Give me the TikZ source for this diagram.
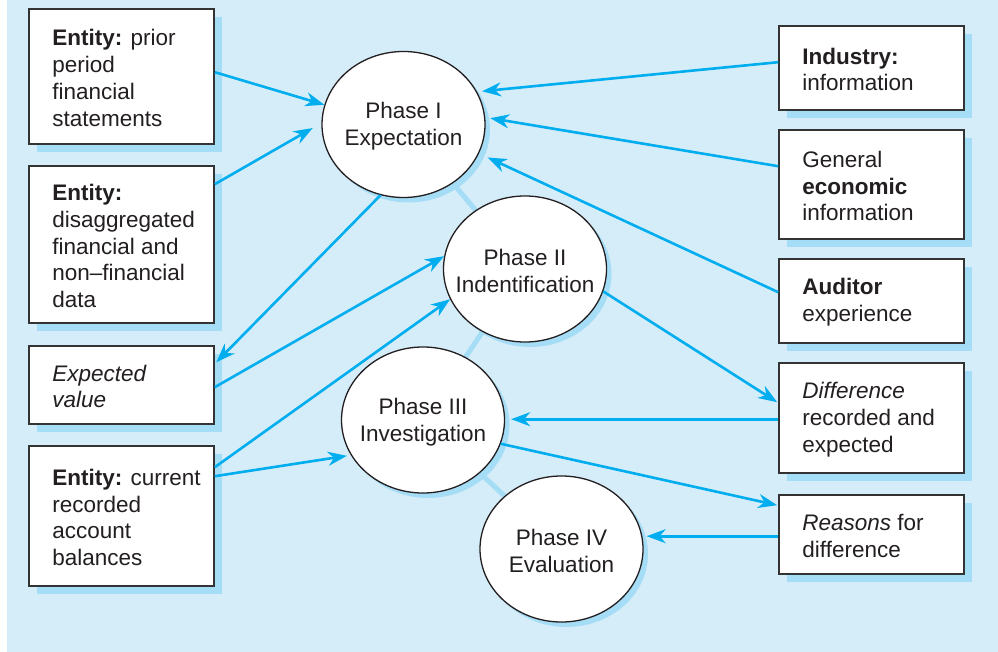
\documentclass[tikz,border=0pt]{standalone}
\usepackage{fontspec}
\setmainfont{Liberation Sans}
\usetikzlibrary{shapes.geometric,arrows.meta,calc,shadows}
\definecolor{bgc}{HTML}{D5ECF9}
\definecolor{shc}{HTML}{A6DDF6}
\definecolor{arrc}{HTML}{00AEEF}
\definecolor{linec}{HTML}{333333}
\definecolor{txtc}{HTML}{231F20}
\pgfdeclarelayer{bg}
\pgfsetlayers{bg,main}
\begin{document}
\begin{tikzpicture}[x=1pt,y=-1pt,
  font=\fontsize{22.5}{26.8}\selectfont,
  box/.style={rectangle, draw=linec, line width=1.6pt, fill=white, minimum width=185pt, inner sep=0pt,
    drop shadow={shadow xshift=8pt, shadow yshift=-8pt, fill=shc, opacity=1}},
  txt/.style={align=left, inner sep=0pt, text=txtc, anchor=west},
  ell/.style={ellipse, draw=txtc, line width=1.3pt, fill=white, minimum width=163pt, minimum height=146pt,
    inner sep=0pt,
    drop shadow={shadow xshift=5pt, shadow yshift=-5pt, fill=shc, opacity=1}},
  etxt/.style={align=center, inner sep=0pt, text=txtc},
  arr/.style={draw=arrc, line width=2.6pt, -{Stealth[length=19pt,width=14pt,inset=6pt]}},
  link/.style={draw=shc, line width=5pt}
]
\useasboundingbox (0,0) rectangle (998,652);

% left boxes
\node[box, minimum height=135pt] (b1) at (121.5,76.5) {};
\node[txt] (t1) at ($(b1.west)+(24,1.5)$) {\textbf{Entity:} prior\\period\\financial\\statements};
\node[box, minimum height=157pt] (b2) at (121.5,244.5) {};
\node[txt] (t2) at ($(b2.west)+(24,1.5)$) {\textbf{Entity:}\\disaggregated\\financial and\\non–financial\\data};
\node[box, minimum height=78pt] (b3) at (121.5,385) {};
\node[txt] (t3) at ($(b3.west)+(24,1.5)$) {\textit{Expected}\\\textit{value}};
\node[box, minimum height=140pt] (b4) at (121.5,516) {};
\node[txt] (t4) at ($(b4.west)+(24,1.5)$) {\textbf{Entity:} current\\recorded\\account\\balances};

% right boxes
\node[box, minimum height=84pt] (r1) at (871.5,68) {};
\node[txt] (u1) at ($(r1.west)+(24,1.5)$) {\textbf{Industry:}\\information};
\node[box, minimum height=109pt] (r2) at (871.5,184.5) {};
\node[txt] (u2) at ($(r2.west)+(24,1.5)$) {General\\\textbf{economic}\\information};
\node[box, minimum height=84pt] (r3) at (871.5,301) {};
\node[txt] (u3) at ($(r3.west)+(24,1.5)$) {\textbf{Auditor}\\experience};
\node[box, minimum height=110pt] (r4) at (871.5,418) {};
\node[txt] (u4) at ($(r4.west)+(24,1.5)$) {\textit{Difference}\\recorded and\\expected};
\node[box, minimum height=79pt] (r5) at (871.5,534.5) {};
\node[txt] (u5) at ($(r5.west)+(24,1.5)$) {\textit{Reasons} for\\difference};

% phases
\node[ell] (p1) at (403.5,124.5) {};
\node[etxt] (q1) at ($(p1.center)+(0,2)$) {Phase I\\Expectation};
\node[ell] (p2) at (525,269) {};
\node[etxt] (q2) at ($(p2.center)+(0,2)$) {Phase II\\Indentification};
\node[ell] (p3) at (423,420) {};
\node[etxt] (q3) at ($(p3.center)+(0,2)$) {Phase III\\Investigation};
\node[ell] (p4) at (561.5,549) {};
\node[etxt] (q4) at ($(p4.center)+(0,2)$) {Phase IV\\Evaluation};

\begin{pgfonlayer}{bg}
  \fill[bgc] (7,0) rectangle (998,652);
  \draw[link] (p1.center) -- (p2.center);
  \draw[link] (p2.center) -- (p3.center);
  \draw[link] (p3.center) -- (p4.center);
\end{pgfonlayer}

% arrows left side
\draw[arr] ($(b1.north east)+(0,64)$) -- (p1.166.6);
\draw[arr, shorten >=10pt] ($(b2.north east)+(0,19)$) -- (p1.179);
\draw[arr] (p1.252) -- ($(b3.north east)+(1.5,17)$);
\draw[arr] ($(b3.north east)+(0,42)$) -- (p2.171.6);
\draw[arr] ($(b4.north east)+(0,22)$) -- (p2.202.6);
\draw[arr, shorten >=4pt] ($(b4.north east)+(0,31)$) -- (p3.206);

% arrows right side
\draw[arr, shorten >=5pt] ($(r1.north west)+(0,37)$) -- (p1.24);
\draw[arr, shorten >=5pt] ($(r2.north west)+(0,37)$) -- (p1.5.3);
\draw[arr, shorten >=9.5pt] ($(r3.north west)+(0,34)$) -- (p1.339.2);
\draw[arr] (p2.-16) -- ($(r4.north west)+(-1,40)$);
\draw[arr, shorten >=6pt] ($(r4.north west)+(0,57)$) coordinate (s11) -- (s11 -| p3.east);
\draw[arr] (p3.-17) -- ($(r5.north west)+(-1,11)$);
\draw[arr, shorten >=3pt] ($(r5.north west)+(0,42)$) coordinate (s13) -- (s13 -| p4.east);
\end{tikzpicture}
\end{document}
